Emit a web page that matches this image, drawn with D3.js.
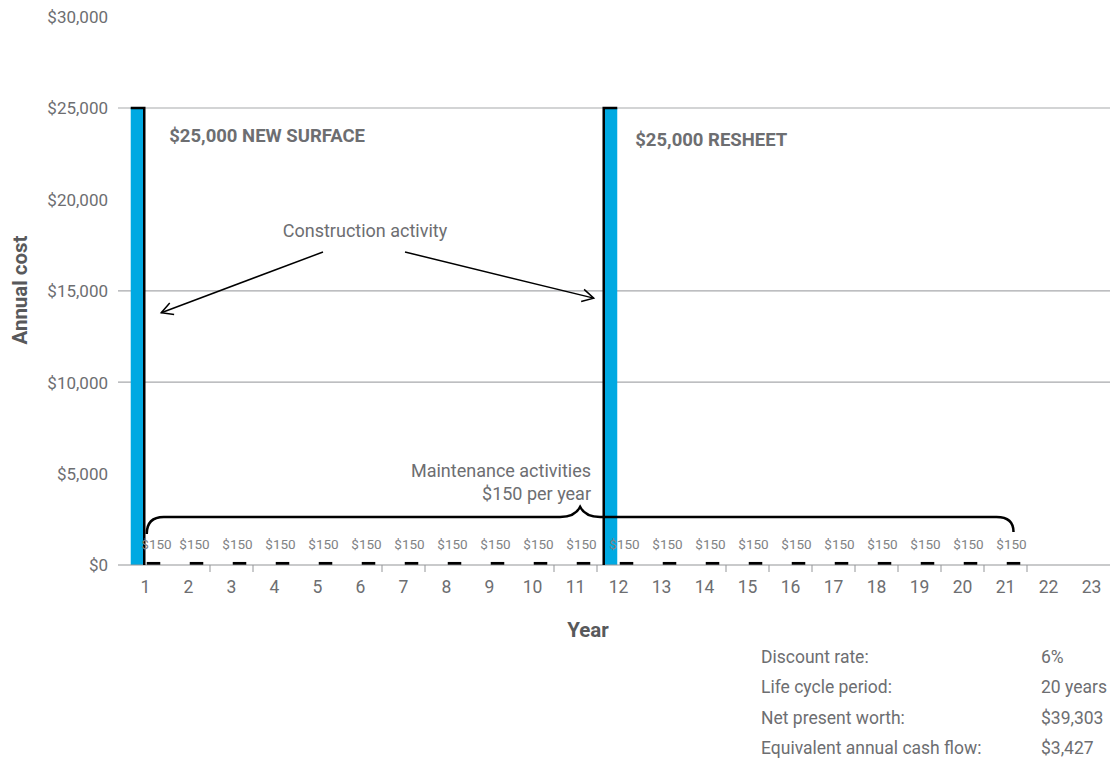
<!DOCTYPE html>
<html><head><meta charset="utf-8">
<script src="https://cdn.jsdelivr.net/npm/d3@7"></script>
<style>
html,body{margin:0;padding:0;background:#fff;}
svg text{font-family:Roboto,"Noto Sans",sans-serif;}
</style></head>
<body>
<svg id="chart" width="1110" height="762"></svg>
<script>
// ---- data ----
const years = d3.range(1, 24);
const constructionCost = [25000,0,0,0,0,0,0,0,0,0,0,25000,0,0,0,0,0,0,0,0,0,0,0];
const maintenanceCost  = [150,150,150,150,150,150,150,150,150,150,150,150,150,150,150,150,150,150,150,150,150,0,0];
const yTickValues = [0,5000,10000,15000,20000,25000,30000];
const gridValues = [10000,15000,25000];
const tickAfterYears = [2,3,6,7,10,11,14,15,16,17,18,19,20,21];
const constructionLabels = [{year:1, text:"$25,000 NEW SURFACE"},{year:12, text:"$25,000 RESHEET"}];
const statsLabels = ["Discount rate:","Life cycle period:","Net present worth:","Equivalent annual cash flow:"];
const statsValues = ["6%","20 years","$39,303","$3,427"];

const svg = d3.select("#chart");
const textCol = "#6d6e71", blue = "#00a9e2";

const x = d3.scaleBand().domain(years).range([124, 1113]).paddingInner(0).paddingOuter(0);
const sub = d3.scaleBand().domain(["c","m"]).range([0, x.bandwidth()]).paddingInner(0.156).paddingOuter(0.42);
const y = d3.scaleLinear().domain([0,30000]).range([565, 16.6]);

// gridlines
svg.append("g").selectAll("line").data(gridValues).join("line")
  .attr("x1",118).attr("x2",1110).attr("y1",d=>y(d)).attr("y2",d=>y(d))
  .attr("stroke","#a7a9ac").attr("stroke-width",1.2);

// y axis
const yAxis = svg.append("g").attr("transform","translate(108,0)")
  .call(d3.axisLeft(y).tickValues(yTickValues).tickSize(0).tickPadding(0).tickFormat(d=>"$"+d3.format(",")(d)));
yAxis.select(".domain").remove();
yAxis.selectAll("text").attr("fill",textCol).attr("font-size",17).attr("dy","0.35em");

// construction bars
svg.append("g").selectAll("rect").data(years.filter((d,i)=>constructionCost[i]>0)).join("rect")
  .attr("x",d=>x(d)+sub("c")).attr("width",sub.bandwidth())
  .attr("y",d=>y(constructionCost[d-1])).attr("height",d=>y(0)-y(constructionCost[d-1]))
  .attr("fill",blue);

// x axis baseline
svg.append("line").attr("x1",118).attr("x2",1110).attr("y1",y(0)).attr("y2",y(0))
  .attr("stroke","#939598").attr("stroke-width",1.2);
// boundary ticks
svg.append("g").selectAll("line").data(tickAfterYears).join("line")
  .attr("x1",d=>x(d)+x.bandwidth()).attr("x2",d=>x(d)+x.bandwidth())
  .attr("y1",y(0)).attr("y2",y(0)+7).attr("stroke","#939598").attr("stroke-width",1);

// outline strokes on construction bars (year 1 right side, year 12 left side)
const firstC = 1, secondC = 12;
svg.append("path").attr("fill","none").attr("stroke","#000").attr("stroke-width",2.5)
  .attr("d", `M${x(firstC)+sub("c")},${y(25000)} H${x(firstC)+sub("c")+sub.bandwidth()} V${y(0)}`);
svg.append("path").attr("fill","none").attr("stroke","#000").attr("stroke-width",2.5)
  .attr("d", `M${x(secondC)+sub("c")+sub.bandwidth()},${y(25000)} H${x(secondC)+sub("c")} V${y(0)}`);

// maintenance bars
svg.append("g").selectAll("rect").data(years.filter((d,i)=>maintenanceCost[i]>0)).join("rect")
  .attr("x",d=>x(d)+sub("m")).attr("width",sub.bandwidth())
  .attr("y",d=>y(maintenanceCost[d-1])-0.3).attr("height",d=>y(0)-y(maintenanceCost[d-1]))
  .attr("fill","#000");

// $150 labels
svg.append("g").selectAll("text").data(years.filter((d,i)=>maintenanceCost[i]>0)).join("text")
  .attr("x",(d)=>x(d)+sub("m")+sub.bandwidth()/2-(d===1?-3:2)).attr("y",y(0)-16.5)
  .attr("text-anchor","middle").attr("font-size",13.5).attr("fill","#808285")
  .text(d=>"$"+maintenanceCost[d-1]);

// x axis labels
const xAxis = svg.append("g").attr("transform",`translate(0,${y(0)})`)
  .call(d3.axisBottom(x).tickSize(0).tickPadding(16));
xAxis.select(".domain").remove();
xAxis.selectAll("text").attr("fill",textCol).attr("font-size",17.5);

// axis titles
svg.append("text").attr("transform","translate(27,290) rotate(-90)").attr("text-anchor","middle")
  .attr("font-size",20.5).attr("font-weight","bold").attr("fill","#58595b").text("Annual cost");
svg.append("text").attr("x",588).attr("y",637).attr("text-anchor","middle")
  .attr("font-size",20.5).attr("font-weight","bold").attr("fill","#58595b").text("Year");

// construction labels
svg.append("g").selectAll("text").data(constructionLabels).join("text")
  .attr("x",d=>x(d.year)+sub("c")+sub.bandwidth()+ (d.year===1?25:18))
  .attr("y",d=>d.year===1?141.5:145.5)
  .attr("font-size",18.5).attr("font-weight","bold").attr("fill",textCol).text(d=>d.text);

// construction activity annotation
svg.append("text").attr("x",365).attr("y",237).attr("text-anchor","middle")
  .attr("font-size",18).attr("fill",textCol).text("Construction activity");
function arrow(x1,y1,x2,y2){
  const a = Math.atan2(y2-y1,x2-x1), L = 13, s = 0.5;
  svg.append("line").attr("x1",x1).attr("y1",y1).attr("x2",x2).attr("y2",y2)
    .attr("stroke","#000").attr("stroke-width",1.5);
  svg.append("path").attr("fill","none").attr("stroke","#000").attr("stroke-width",1.5)
    .attr("d",`M${x2-L*Math.cos(a-s)},${y2-L*Math.sin(a-s)} L${x2},${y2} L${x2-L*Math.cos(a+s)},${y2-L*Math.sin(a+s)}`);
}
arrow(323, 252, x(1)+sub("c")+sub.bandwidth()+17, y(13800));
arrow(405, 252, x(12)+sub("c")-10, y(14600));

// maintenance annotation
svg.append("text").attr("x",591).attr("y",477).attr("text-anchor","end")
  .attr("font-size",18).attr("fill",textCol).text("Maintenance activities");
svg.append("text").attr("x",591).attr("y",500).attr("text-anchor","end")
  .attr("font-size",18).attr("fill",textCol).text("$150 per year");

// brace
const bL = x(1)+sub("m"), bR = x(21)+sub("m")+sub.bandwidth()/2, bM = (bL+bR)/2;
const by = y(2630), r = 17;
svg.append("path").attr("fill","none").attr("stroke","#000").attr("stroke-width",2.5)
  .attr("d",`M${bL},${by+r} Q${bL},${by} ${bL+r},${by} H${bM-20} Q${bM-5},${by} ${bM},${by-10} Q${bM+5},${by} ${bM+20},${by} H${bR-r} Q${bR},${by} ${bR},${by+r-2}`);

// stats table
const st = svg.append("g");
st.selectAll("text.l").data(statsLabels).join("text").attr("class","l")
  .attr("x",761).attr("y",(d,i)=>663+i*30.3).attr("font-size",17.5).attr("fill",textCol).text(d=>d);
st.selectAll("text.v").data(statsValues).join("text").attr("class","v")
  .attr("x",1041).attr("y",(d,i)=>663+i*30.3).attr("font-size",17.5).attr("fill",textCol).text(d=>d);
</script>
</body></html>
